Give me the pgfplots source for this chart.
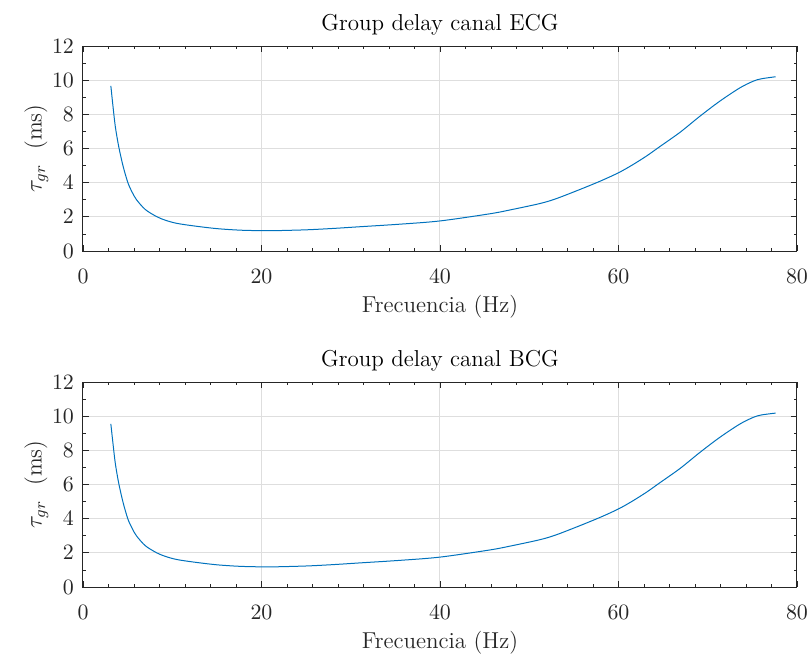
\documentclass[border=0pt]{standalone}
\usepackage{pgfplots}
\pgfplotsset{compat=1.18}

\definecolor{mblue}{rgb}{0,0.447,0.741}
\definecolor{axgray}{rgb}{0.15,0.15,0.15}
\definecolor{gridgray}{rgb}{0.87,0.87,0.87}

\pgfplotstableread{
f tau
3.12 9.67
3.36 8.47
3.62 7.29
4.00 6.12
4.50 4.95
5.03 4.00
5.50 3.45
6.00 3.00
7.00 2.42
8.30 2.00
9.30 1.79
10.5 1.62
12.4 1.47
15.0 1.31
17.6 1.22
20.0 1.19
21.4 1.19
25.0 1.24
28.0 1.32
31.0 1.42
35.5 1.57
40.0 1.76
45.6 2.18
48.0 2.42
51.2 2.78
53.0 3.06
55.67 3.60
58.0 4.10
60.0 4.58
61.5 5.02
63.14 5.56
64.6 6.10
66.9 6.95
69.1 7.88
71.35 8.77
73.6 9.55
75.1 9.94
76.0 10.08
77.6 10.20
}\ecgdata

\pgfplotstableread{
f tau
3.12 9.55
3.36 8.40
3.62 7.24
4.00 6.08
4.50 4.93
5.03 3.98
5.50 3.44
6.00 2.99
7.00 2.41
8.30 1.99
9.30 1.78
10.5 1.61
12.4 1.46
15.0 1.30
17.6 1.21
20.0 1.18
21.4 1.18
25.0 1.23
28.0 1.31
31.0 1.41
35.5 1.56
40.0 1.75
45.6 2.17
48.0 2.41
51.2 2.77
53.0 3.05
55.67 3.59
58.0 4.09
60.0 4.57
61.5 5.01
63.14 5.55
64.6 6.09
66.9 6.94
69.1 7.87
71.35 8.76
73.6 9.54
75.1 9.93
76.0 10.07
77.6 10.18
}\bcgdata

\pgfplotsset{
  gdstyle/.style={
    scale only axis,
    width=357pt, height=102.5pt,
    xmin=0, xmax=80, ymin=0, ymax=12,
    xtick={0,20,40,60,80},
    ytick={0,2,4,6,8,10,12},
    minor x tick num=6,
    minor y tick num=1,
    tick align=inside,
    major tick length=3pt,
    minor tick length=1.7pt,
    axis line style={axgray, line width=0.5pt},
    every tick/.style={axgray, line width=0.4pt},
    xmajorgrids, ymajorgrids,
    major grid style={gridgray, line width=0.5pt},
    tick label style={font=\fontsize{11}{13}\selectfont, text=axgray},
    label style={font=\fontsize{11.5}{13}\selectfont, text=axgray},
    title style={font=\fontsize{11.5}{13}\selectfont, text=black, yshift=-4pt},
    xlabel={Frecuencia (Hz)},
    ylabel={$\tau_{gr}$\ \ (ms)},
    xlabel style={yshift=1pt},
    ylabel style={yshift=-5pt},
    xticklabel style={yshift=-5.5pt},
    yticklabel style={xshift=-1pt},
  }
}

\begin{document}
\begin{tikzpicture}
\begin{axis}[gdstyle, at={(0,0)}, anchor=south west, title={Group delay canal ECG}]
\addplot[mblue, line width=0.5pt, smooth, tension=0.5] table[x=f, y=tau] {\ecgdata};
\end{axis}
\begin{axis}[gdstyle, at={(0,-168pt)}, anchor=south west, title={Group delay canal BCG}]
\addplot[mblue, line width=0.5pt, smooth, tension=0.5] table[x=f, y=tau] {\bcgdata};
\end{axis}
\pgfresetboundingbox
\path (-41.5pt,-201.5pt) rectangle (363pt,125.5pt);
\end{tikzpicture}
\end{document}
